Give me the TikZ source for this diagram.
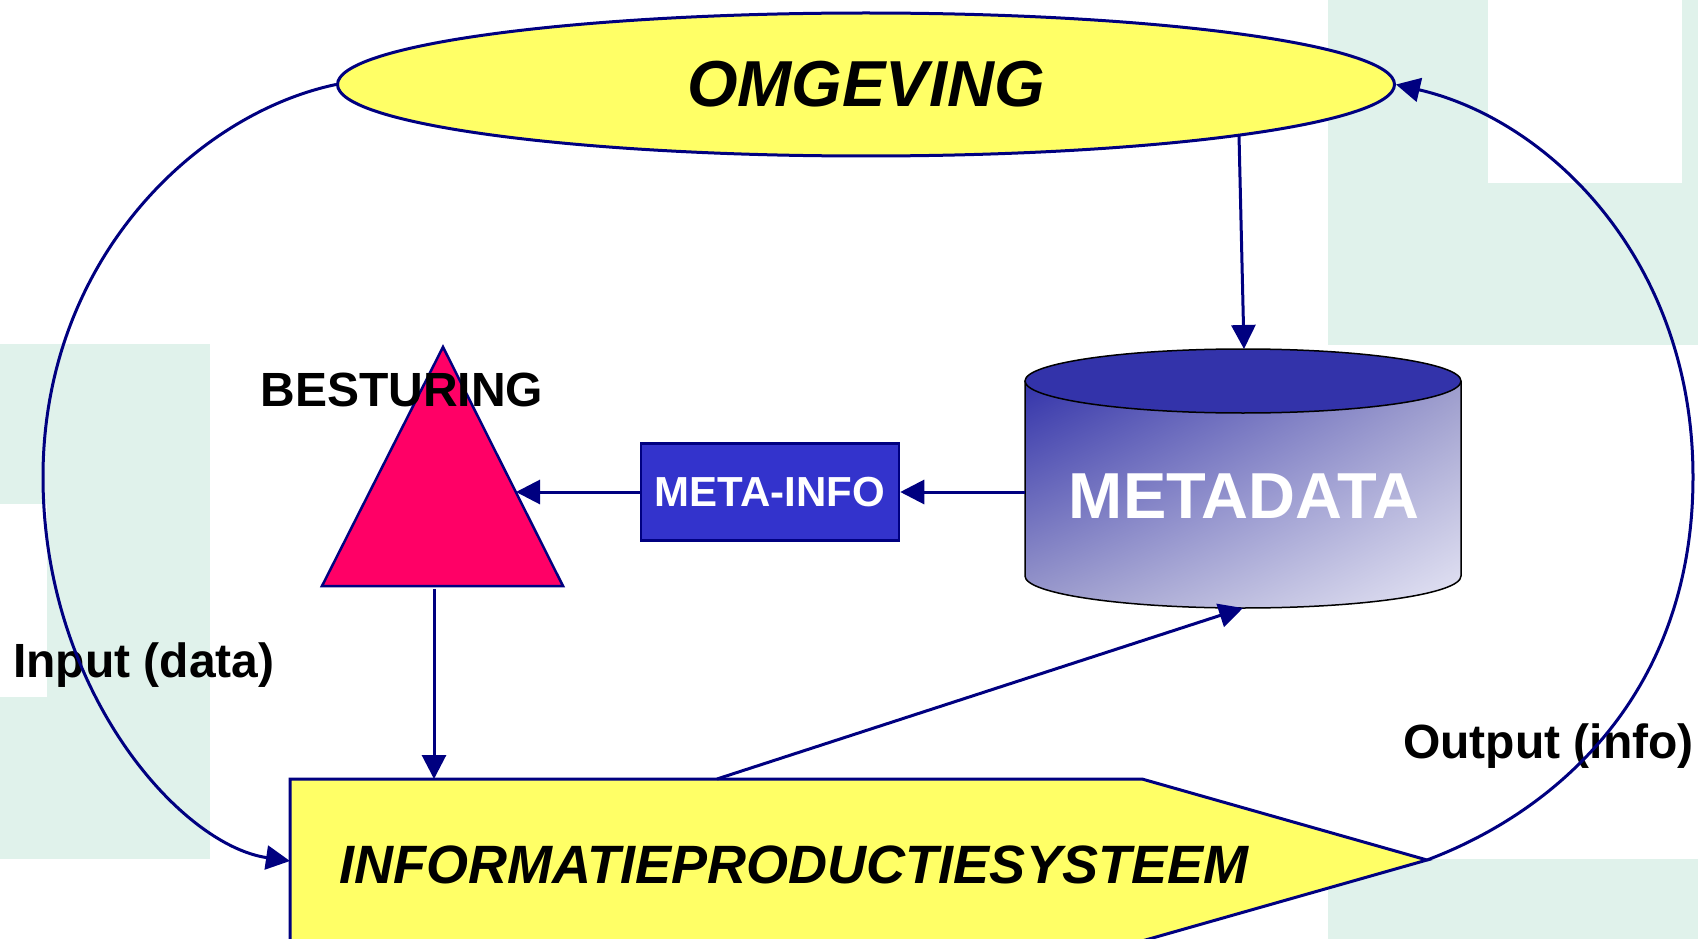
\documentclass[tikz,border=0pt]{standalone}
\usepackage{fontspec}
\setmainfont{Liberation Sans}
\usetikzlibrary{arrows.meta,shapes.geometric,shadings}
\definecolor{navy}{HTML}{000080}
\definecolor{ylw}{HTML}{FFFF66}
\definecolor{mint}{HTML}{E0F2EB}
\definecolor{pinkred}{HTML}{FF0066}
\definecolor{boxblue}{HTML}{3333CC}
\definecolor{cyltop}{HTML}{3333AA}
\definecolor{cylmid}{HTML}{9C9CCC}
\definecolor{cyllight}{HTML}{E6E6F5}
\begin{document}
\begin{tikzpicture}[x=1pt,y=-1pt,
  conn/.style={draw=navy,line width=3pt,-{Triangle[length=24pt,width=24pt]}},
  lbl/.style={font=\fontsize{48}{56}\selectfont\bfseries,text=black,inner sep=0pt},
  bigfont/.style={font=\fontsize{65}{70}\selectfont\bfseries\itshape,text=black}]
% background
\fill[white] (0,0) rectangle (1698,939);
\useasboundingbox (0,0) rectangle (1698,939);
\fill[mint] (0,344) rectangle (210,859);
\fill[white] (0,504) rectangle (47,697);
\fill[mint] (1328,0) rectangle (1698,345);
\fill[white] (1488,0) rectangle (1682,183);
\fill[mint] (1328,859) rectangle (1698,939);
% labels
\node[lbl,anchor=base west] (inp) at (13,677) {Input (data)};
\node[lbl,anchor=base west] (outp) at (1403,758) {Output (info)};
% OMGEVING
\node[ellipse,draw=navy,line width=3pt,fill=ylw,minimum width=1057pt,minimum height=143pt,inner sep=0pt,bigfont] (omg) at (866,84.5) {OMGEVING};
% IPS
\draw[navy,line width=3pt,fill=ylw] (290,779) -- (1142,779) -- (1427,860) -- (1142,941) -- (290,941) -- cycle;
\node[anchor=base,font=\fontsize{54}{60}\selectfont\bfseries\itshape,inner sep=0pt] (ipst) at (794,883) {INFORMATIEPRODUCTIESYSTEEM};
\coordinate (ipsL) at (290,861);
\coordinate (ipsTip) at (1427,860);
\coordinate (ipsT1) at (434,779);
\coordinate (ipsT2) at (717,779);
% triangle
\draw[navy,line width=2.5pt,fill=pinkred] (443,347) -- (563,586) -- (322,586) -- cycle;
\coordinate (tR) at (516,492);
\coordinate (tB) at (434,589);
\node[lbl,anchor=base] (best) at (402,406) {BESTURING};
% META-INFO
\node[draw=navy,line width=2.5pt,fill=boxblue,minimum width=258pt,minimum height=97pt,inner sep=0pt,text=white,font=\fontsize{42}{48}\selectfont\bfseries] (mi) at (770,492) {META-INFO};
% cylinder
\shade[upper left=cyltop,upper right=cylmid,lower left=cylmid,lower right=cyllight]
  (1025,381) -- (1025,576) .. controls (1025,593.7) and (1122.7,608) .. (1243,608)
  .. controls (1363.3,608) and (1461,593.7) .. (1461,576) -- (1461,381) -- cycle;
\draw[black,line width=1.5pt]
  (1025,381) -- (1025,576) .. controls (1025,593.7) and (1122.7,608) .. (1243,608)
  .. controls (1363.3,608) and (1461,593.7) .. (1461,576) -- (1461,381);
\draw[black,line width=1.5pt,fill=cyltop] (1243,381) ellipse[x radius=218,y radius=32];
\node[anchor=base,text=white,font=\fontsize{65}{70}\selectfont\bfseries,inner sep=0pt] (mdt) at (1244,518) {METADATA};
\coordinate (cylTop) at (1244,349);
\coordinate (cylL) at (1025,492);
\coordinate (cylB) at (1243,608);
\coordinate (omgB) at (1239,135);
% connectors
\draw[conn] (omgB) -- (cylTop);
\draw[conn] (cylL) -- (mi.east);
\draw[conn] (mi.west) -- (tR);
\draw[conn] (tB) -- (ipsT1);
\draw[conn] (ipsT2) -- (cylB);
\draw[conn] (omg.west) .. controls (196,114) and (43,260) .. (43,477)
  .. controls (43,690) and (180,845) .. (ipsL);
\draw[conn] (ipsTip) .. controls (1560,810) and (1693,690) .. (1693,477)
  .. controls (1693,261) and (1550,120) .. (omg.east);
\end{tikzpicture}
\end{document}
